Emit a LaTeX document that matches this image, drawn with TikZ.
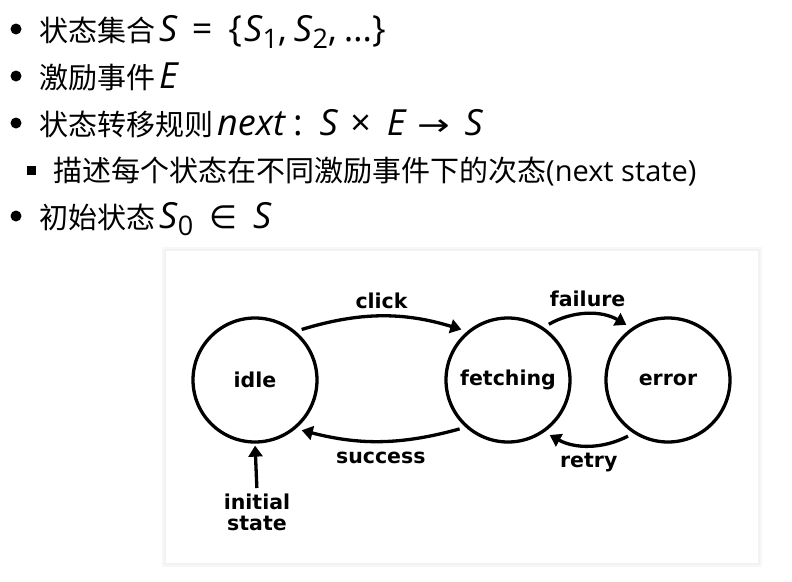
\documentclass[tikz,border=0pt]{standalone}
\usepackage{fontspec}
\setmainfont{Open Sans}
\newfontfamily\cjk{Noto Sans CJK SC}
\newfontfamily\dejavu{DejaVu Sans}
\usetikzlibrary{arrows.meta, positioning, calc}
\newcommand{\mpart}[1]{{\fontsize{36}{36}\selectfont\hspace{4pt}#1}}
\newcommand{\mv}[1]{\textit{#1}}
\newcommand{\msub}[1]{\raisebox{-0.22em}{\fontsize{27}{27}\selectfont #1}}
\newcommand{\lblfont}{\dejavu\bfseries\fontsize{20.5}{21}\selectfont}
\tikzset{
  item/.style={anchor=base west, inner sep=0pt, font=\fontsize{29}{29}\selectfont},
  state/.style={circle, draw, line width=3.3pt, minimum size=124pt, inner sep=0pt, font=\lblfont},
  trans/.style={-{Triangle[length=11pt, width=14pt]}, line width=3.3pt, shorten <=6pt, shorten >=6pt},
  elabel/.style={font=\lblfont, text height=18pt, text depth=3pt, inner sep=3pt},
}

\begin{document}
\begin{tikzpicture}[x=1pt, y=-1pt]
  \useasboundingbox (0,0) rectangle (792,581);
  \foreach \y in {29,76,123,216} {
    \fill (16,\y) circle (5.5);
  }
  \fill (27,166) rectangle (36,175);
  \node[item] (l1) at (39,41) {{\cjk 状态集合}\mpart{\mv{S}\hspace{14pt}=\hspace{16pt}\{\hspace{2pt}\mv{S}\msub{1},\hspace{7pt}\mv{S}\msub{2},\hspace{7pt}…\}}};
  \node[item] (l2) at (39,88) {{\cjk 激励事件}\mpart{\mv{E}}};
  \node[item] (l3) at (39,135) {{\cjk 状态转移规则}\mpart{\mv{next}\hspace{7pt}:\hspace{17pt}\mv{S}\hspace{12pt}×\hspace{16pt}\mv{E}\hspace{11pt}\scalebox{1.3}[1]{\dejavu\fontsize{30}{30}\selectfont →}\hspace{14pt}\mv{S}}};
  \node[item] (l4) at (53,181) {{\cjk 描述每个状态在不同激励事件下的次态}(next state)};
  \node[item] (l5) at (39,228) {{\cjk 初始状态}\mpart{\mv{S}\msub{0}\hspace{16pt}{\dejavu\fontsize{32}{32}\selectfont ∈}\hspace{16pt}\mv{S}}};

  \fill[black!3] (162,247) rectangle (762,567);
  \fill[black!5] (164,249) rectangle (760,565);
  \fill[white] (166,251) rectangle (758,563);

  \node[state] (idle) at (255,380) {idle};
  \node[state] (fetching) at (508,380) {fetching};
  \node[state] (error) at (668,380) {error};
  \node[font=\lblfont, align=center, anchor=north, inner sep=3pt] (init) at (257,491) {initial\\state};

  \draw[trans] (idle.50) to[bend left=17] node[elabel, above] (lclick) {click} (fetching.130);
  \draw[trans] (fetching.-132) to[bend left=15] node[elabel, below] (lsuccess) {success} (idle.-50);
  \draw[trans] (fetching.56) to[bend left=30] node[elabel, above] (lfailure) {failure} (error.125);
  \draw[trans] (error.-123) to[bend left=28] node[elabel, below] (lretry) {retry} (fetching.-55);
  \draw[trans, shorten <=3pt, shorten >=2pt] (init.north) -- (idle.south);
\end{tikzpicture}
\end{document}
